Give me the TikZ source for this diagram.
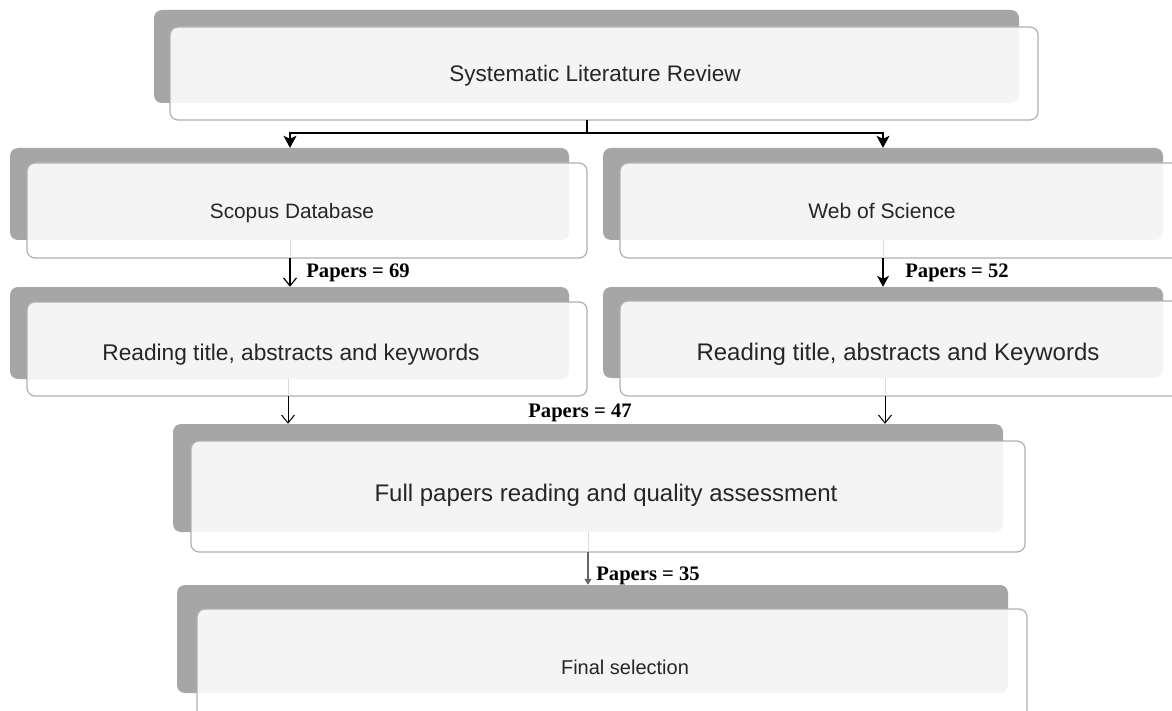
\documentclass[tikz,border=0pt]{standalone}
\usepackage{fontspec}
\setmainfont{Liberation Sans}
\newfontfamily\lblfont{Liberation Serif}
\usetikzlibrary{arrows.meta,fit}
\definecolor{backc}{HTML}{A6A6A6}
\definecolor{lightc}{HTML}{F4F4F4}
\definecolor{borderc}{HTML}{B0B0B0}
\definecolor{faintc}{HTML}{DADADA}
\tikzset{
  backbox/.style={inner sep=0pt, fill=backc, rounded corners=8pt},
  frontbox/.style={inner sep=0pt, fill=white, rounded corners=8pt},
  frontborder/.style={draw=borderc, line width=1.2pt, rounded corners=8pt},
  boxtext/.style={text=black!85, inner sep=0pt, anchor=base},
  paperlbl/.style={font=\lblfont\bfseries\fontsize{20.6}{24}\selectfont, inner sep=0pt, anchor=base},
  conn/.style={line width=1.2pt, draw=black},
  faint/.style={line width=1pt, draw=faintc},
}
\newcommand\fs[1]{\fontsize{#1}{#1}\selectfont}
% #1 name, #2-#5 back rect, #6-#9 front rect
\newcommand\slbox[9]{%
  \node[backbox, fit={(#2,#3) (#4,#5)}] (#1b) {};
  \node[frontbox, fit={(#6,#7) (#8,#9)}] (#1) {};
  \begin{scope}
    \clip[rounded corners=8pt] (#6,#7) rectangle (#8,#9);
    \fill[lightc, rounded corners=8pt] (#2,#3) rectangle (#4,#5);
  \end{scope}
  \draw[frontborder] (#6,#7) rectangle (#8,#9);
}
\begin{document}
\begin{tikzpicture}[x=1pt,y=-1pt]
\useasboundingbox (0,0) rectangle (1172,711);
\fill[white] (0,0) rectangle (1172,711);

\slbox{top}{154}{10}{1019}{103}{170}{27}{1038}{120}
\slbox{scopus}{10}{148}{569}{240}{27}{163}{587}{258}
\slbox{wos}{603}{148}{1163}{240}{620}{163}{1185}{258}
\slbox{readl}{10}{287}{569}{379}{27}{302}{587}{396}
\slbox{readr}{603}{287}{1163}{378}{620}{301}{1185}{396}
\slbox{full}{173}{424}{1003}{532}{191}{441}{1025}{552}
\slbox{final}{177}{585}{1008}{693}{197}{609}{1027}{725}

\node[boxtext, font=\fs{22.5}] (ttop) at (595,82) {Systematic Literature Review};
\node[boxtext, font=\fs{20.8}] (tscopus) at (292,219) {Scopus Database};
\node[boxtext, font=\fs{21.1}] (twos) at (882,219) {Web of Science};
\node[boxtext, font=\fs{22.7}] (treadl) at (291,360) {Reading title, abstracts and keywords};
\node[boxtext, font=\fs{24}] (treadr) at (898,360) {Reading title, abstracts and Keywords};
\node[boxtext, font=\fs{24}] (tfull) at (606,501) {Full papers reading and quality assessment};
\node[boxtext, font=\fs{20}] (tfinal) at (625,674) {Final selection};

% top split
\coordinate (split) at (587,133);
\draw[conn] (587,0 |- top.south) -- (split);
\draw[conn, -{Stealth[length=12pt,width=13pt,inset=3pt]}] (split) -| (290,0 |- scopusb.north);
\draw[conn, -{Stealth[length=12pt,width=13pt,inset=3pt]}] (split) -| (883,0 |- wosb.north);

% Scopus -> reading
\draw[faint] (290,0 |- scopusb.south) -- (290,0 |- scopus.south);
\draw[conn, -{Straight Barb[length=8pt,width=13pt]}] (290,0 |- scopus.south) -- (290,0 |- readlb.north);
\draw[faint] (883,0 |- wosb.south) -- (883,0 |- wos.south);
\draw[conn, -{Stealth[length=11pt,width=12pt,inset=3pt]}] (883,0 |- wos.south) -- (883,0 |- readrb.north);

% reading -> full
\draw[faint] (288,0 |- readlb.south) -- (288,0 |- readl.south);
\draw[conn, line width=1pt, -{Straight Barb[length=8pt,width=13pt]}] (288,0 |- readl.south) -- (288,0 |- fullb.north);
\draw[faint] (885,0 |- readrb.south) -- (885,0 |- readr.south);
\draw[conn, line width=1pt, -{Straight Barb[length=8pt,width=13pt]}] (885,0 |- readr.south) -- (885,0 |- fullb.north);

% full -> final
\draw[faint] (588,0 |- fullb.south) -- (588,0 |- full.south);
\draw[line width=1.5pt, draw=black!60, -{Triangle[length=6pt,width=7pt]}] (588,0 |- full.south) -- (588,0 |- finalb.north);

\node[paperlbl] (p69) at (358,277) {Papers = 69};
\node[paperlbl] (p52) at (957,277) {Papers = 52};
\node[paperlbl] (p47) at (580,417) {Papers = 47};
\node[paperlbl] (p35) at (648,580) {Papers = 35};
\end{tikzpicture}
\end{document}
